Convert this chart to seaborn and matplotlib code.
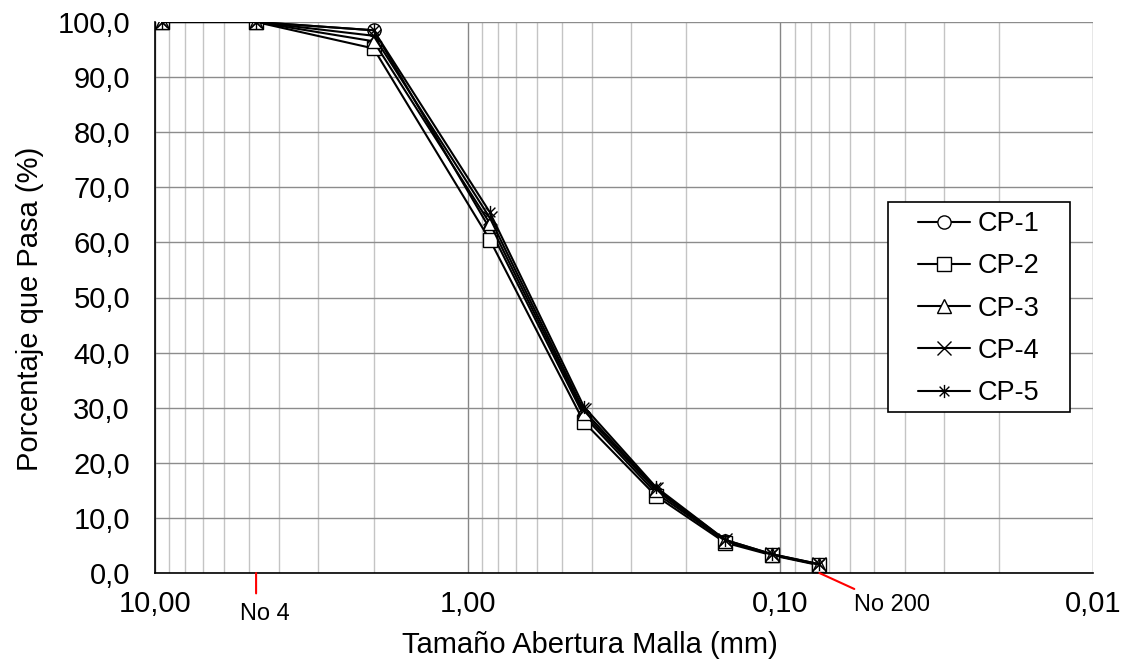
import numpy as np
import pandas as pd
import matplotlib
matplotlib.use("Agg")
import matplotlib.pyplot as plt
import seaborn as sns
from matplotlib.path import Path
from matplotlib.patches import Rectangle
from matplotlib.ticker import FuncFormatter, LogLocator, NullFormatter, FixedLocator

# ---- data ----
sizes_mm = [9.5, 4.75, 2.0, 0.85, 0.425, 0.25, 0.15, 0.106, 0.075]
series = ["CP-1", "CP-2", "CP-3", "CP-4", "CP-5"]
cp1 = [100.0, 100.0, 98.5, 62.5, 28.5, 14.5, 5.8, 3.3, 1.5]
cp2 = [100.0, 100.0, 95.2, 60.5, 27.4, 14.0, 5.5, 3.2, 1.4]
cp3 = [100.0, 100.0, 96.5, 63.5, 29.0, 15.0, 5.8, 3.3, 1.5]
cp4 = [100.0, 100.0, 97.5, 64.5, 29.5, 15.3, 6.0, 3.4, 1.6]
cp5 = [100.0, 100.0, 98.5, 65.5, 30.2, 15.6, 6.0, 3.4, 1.6]
x_ticks = [10.0, 1.0, 0.1, 0.01]
y_ticks = [0, 10, 20, 30, 40, 50, 60, 70, 80, 90, 100]

df = pd.DataFrame({
    "size": sizes_mm * 5,
    "pct": cp1 + cp2 + cp3 + cp4 + cp5,
    "serie": sum([[s] * len(sizes_mm) for s in series], []),
})

sns.set_style("white")
plt.rcParams["font.family"] = ["Liberation Sans", "DejaVu Sans"]
plt.rcParams["text.color"] = "black"
plt.rcParams["axes.labelcolor"] = "black"
plt.rcParams["xtick.color"] = "black"
plt.rcParams["ytick.color"] = "black"

fig = plt.figure(figsize=(11.23, 6.67), dpi=100)
ax = fig.add_axes([155 / 1123, 1 - 573 / 667, 938 / 1123, 551 / 667])

star = Path([(-1, -1), (1, 1), (-1, 1), (1, -1), (0, -1.35), (0, 1.35)],
            [Path.MOVETO, Path.LINETO, Path.MOVETO, Path.LINETO, Path.MOVETO, Path.LINETO])
markers = ["o", "s", "^", "x", star]

for s, m in zip(series, markers):
    sub = df[df["serie"] == s]
    sns.lineplot(data=sub, x="size", y="pct", color="black", marker=m,
                 linewidth=1.5, markersize=9.5, markerfacecolor="white",
                 markeredgecolor="black", markeredgewidth=1.0, ax=ax,
                 label=s, zorder=3)

ax.set_xscale("log")
ax.set_xlim(10, 0.01)
ax.set_ylim(0, 100)

ax.xaxis.set_major_locator(FixedLocator(x_ticks))
ax.xaxis.set_minor_locator(LogLocator(base=10, subs=np.arange(2, 10)))
ax.xaxis.set_minor_formatter(NullFormatter())
ax.xaxis.set_major_formatter(FuncFormatter(lambda v, p: f"{v:.2f}".replace(".", ",")))
ax.yaxis.set_major_locator(FixedLocator(y_ticks))
ax.yaxis.set_major_formatter(FuncFormatter(lambda v, p: f"{v:.1f}".replace(".", ",")))

ax.grid(which="major", axis="x", color="#868686", linewidth=1.0)
ax.grid(which="minor", axis="x", color="#c4c4c4", linewidth=1.0)
ax.grid(which="major", axis="y", color="#8c8c8c", linewidth=1.0)
ax.set_axisbelow(True)

for sp in ["top", "right"]:
    ax.spines[sp].set_visible(False)
ax.spines["left"].set_color("black")
ax.spines["bottom"].set_color("black")
ax.spines["left"].set_linewidth(1.2)
ax.spines["bottom"].set_linewidth(1.2)

ax.tick_params(axis="x", which="major", direction="out", length=5, width=1.0,
               color="#333333", labelsize=21, pad=7)
ax.tick_params(axis="x", which="minor", length=0)
ax.tick_params(axis="y", length=0, labelsize=21, pad=18)

ax.set_xlabel("Tamaño Abertura Malla (mm)", fontsize=21)
ax.set_ylabel("Porcentaje que Pasa (%)", fontsize=21)
ax.xaxis.set_label_coords((590 - 155) / 938, -0.105)
ax.yaxis.set_label_coords(-0.118, 0.48)

# sieve annotations
ax.annotate("", xy=(4.75, 0), xytext=(4.75, -3.7), xycoords="data",
            arrowprops=dict(arrowstyle="-", color="red", lw=1.5, shrinkA=0, shrinkB=0),
            annotation_clip=False)
ax.text(4.45, -7.5, "No 4", fontsize=17, ha="center", va="center", clip_on=False)
ax.annotate("", xy=(0.075, 0), xytext=(0.058, -2.9), xycoords="data",
            arrowprops=dict(arrowstyle="-", color="red", lw=1.5, shrinkA=0, shrinkB=0),
            annotation_clip=False)
ax.text(0.0440, -5.8, "No 200", fontsize=17, ha="center", va="center", clip_on=False)

# legend with a square frame
frame = Rectangle(((888 - 155) / 938, (573 - 412) / 551), 182 / 938, 210 / 551,
                  transform=ax.transAxes, facecolor="white", edgecolor="black",
                  linewidth=1.2, zorder=4)
ax.add_patch(frame)
handles, labels = ax.get_legend_handles_labels()
leg = ax.legend(handles, labels, loc="upper left",
                bbox_to_anchor=((918 - 155) / 938, (573 - 211) / 551),
                fontsize=19.5, frameon=False, borderpad=0, borderaxespad=0,
                handlelength=1.93, labelspacing=0.6, handletextpad=0.26)
leg.set_zorder(5)

fig.savefig("out.png", dpi=100)
